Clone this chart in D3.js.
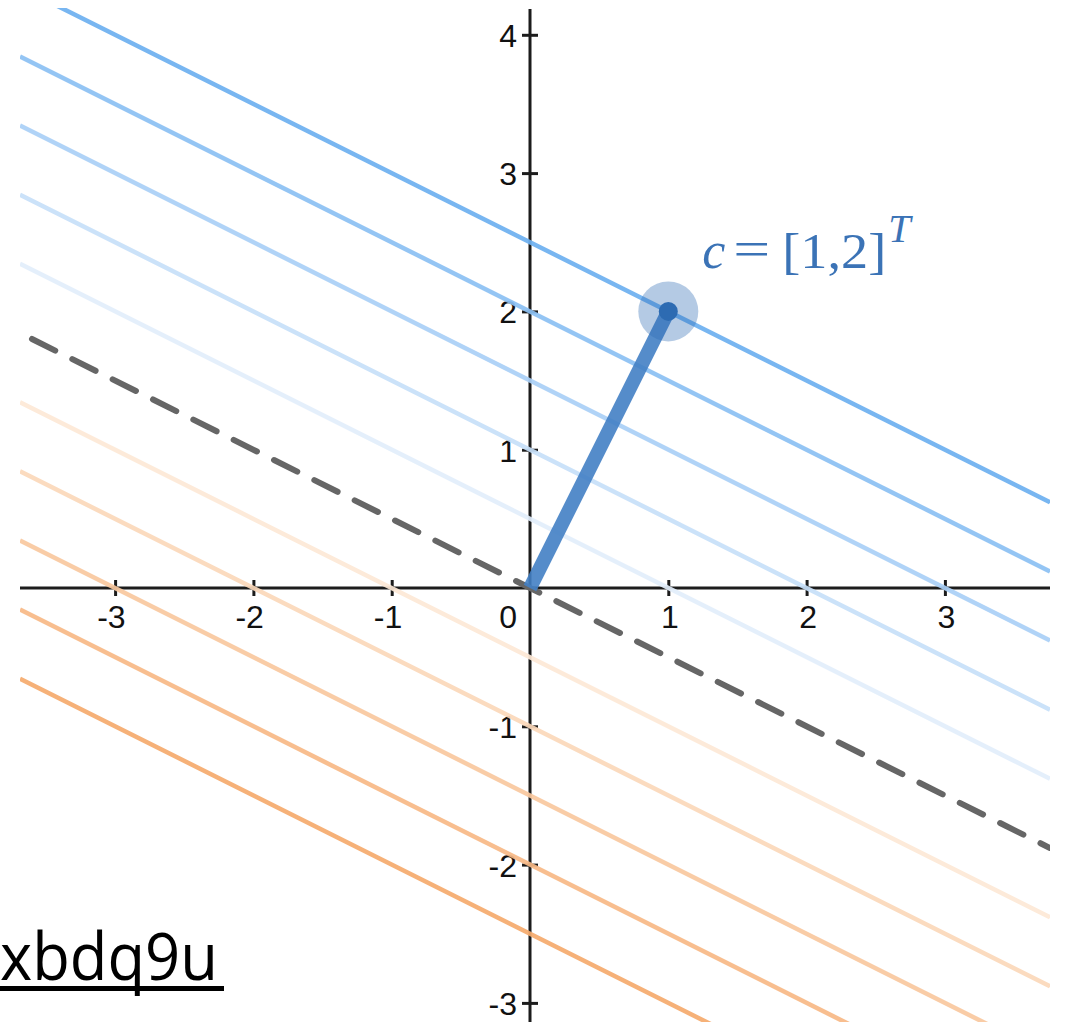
<!DOCTYPE html>
<html>
<head>
<meta charset="utf-8">
<script src="https://cdn.jsdelivr.net/npm/d3@7"></script>
<style>
  html, body { margin: 0; padding: 0; background: #fff; }
  svg { display: block; }
</style>
</head>
<body>
<svg id="chart" width="1066" height="1022"></svg>
<script>
// Level sets of f(x, y) = c·[x, y] with c = [1, 2]
const cVector = [1, 2];
const levelValues = [5, 4, 3, 2, 1, -1, -2, -3, -4, -5];
const levelColors = ["#6cb0f0", "#8bc0f3", "#a9cff6", "#c7dff8", "#e2eefb",
                     "#fde8d6", "#fbd8ba", "#f9c89e", "#f7b986", "#f5aa6c"];
const zeroLevel = 0;
const xTicks = [-3, -2, -1, 1, 2, 3];
const yTicks = [-3, -2, -1, 1, 2, 3, 4];
const originLabel = "0";
const vectorLabel = { name: "c", eq: "=", values: "[1,2]", sup: "T" };
const footerText = "xbdq9u";

(function draw() {
  const svg = d3.select("#chart");

  // plot frame in pixels
  const frameLeft = 20, frameRight = 1050, frameTop = 8, frameBottom = 1022;
  const unit = 138.3, ox = 530, oy = 588;

  const x = d3.scaleLinear()
    .domain([(frameLeft - ox) / unit, (frameRight - ox) / unit])
    .range([frameLeft, frameRight]);
  const y = d3.scaleLinear()
    .domain([(oy - frameBottom) / unit, (oy - frameTop) / unit])
    .range([frameBottom, frameTop]);

  svg.append("defs").append("clipPath").attr("id", "plot-clip")
    .append("rect").attr("x", frameLeft).attr("y", frameTop)
    .attr("width", frameRight - frameLeft).attr("height", frameBottom - frameTop);

  // ---- axes ----
  const axisColor = "#1c1c1c";
  const tickFont = "'Liberation Sans', Arial, sans-serif";
  const tickSize = 32;
  const plainNumber = d => String(d);   // hyphen-minus labels
  const axes = svg.append("g");

  const xAxis = axes.append("g")
    .attr("transform", `translate(0,${y(0)})`)
    .call(d3.axisBottom(x).tickValues(xTicks).tickSize(0).tickFormat(plainNumber));
  xAxis.select(".domain").attr("d", `M${frameLeft},0H${frameRight}`)
    .attr("stroke", axisColor).attr("stroke-width", 3);
  xAxis.selectAll(".tick line").attr("y1", -8).attr("y2", 8)
    .attr("stroke", axisColor).attr("stroke-width", 3);
  xAxis.selectAll(".tick text")
    .style("font-family", tickFont)
    .style("font-size", tickSize + "px").attr("fill", "#111")
    .attr("text-anchor", "end")
    .attr("x", 10).attr("y", 40).attr("dy", 0);

  const yAxis = axes.append("g")
    .attr("transform", `translate(${x(0)},0)`)
    .call(d3.axisLeft(y).tickValues(yTicks).tickSize(0).tickFormat(plainNumber));
  yAxis.select(".domain").attr("d", `M0,${frameTop + 1}V${frameBottom}`)
    .attr("stroke", axisColor).attr("stroke-width", 3);
  yAxis.selectAll(".tick line").attr("x1", -8).attr("x2", 8)
    .attr("stroke", axisColor).attr("stroke-width", 3);
  yAxis.selectAll(".tick text")
    .style("font-family", tickFont)
    .style("font-size", tickSize + "px").attr("fill", "#111")
    .attr("text-anchor", "end")
    .attr("x", -13).attr("dy", "0.36em");

  axes.append("text")
    .attr("x", x(0) - 13).attr("y", y(0) + 40)
    .attr("text-anchor", "end")
    .style("font-family", tickFont)
    .style("font-size", tickSize + "px").attr("fill", "#111")
    .text(originLabel);

  // ---- level lines c·x = k ----
  const plot = svg.append("g").attr("clip-path", "url(#plot-clip)");
  const [x0, x1] = x.domain();
  const levelY = (k, xv) => (k - cVector[0] * xv) / cVector[1];

  plot.selectAll("line.level")
    .data(levelValues)
    .join("line")
    .attr("class", "level")
    .attr("x1", x(x0)).attr("y1", k => y(levelY(k, x0)))
    .attr("x2", x(x1)).attr("y2", k => y(levelY(k, x1)))
    .attr("stroke", (k, i) => levelColors[i])
    .attr("stroke-width", 4.5)
    .attr("stroke-opacity", 0.92);

  // zero level set, dashed
  plot.append("line")
    .attr("x1", x(x0)).attr("y1", y(levelY(zeroLevel, x0)))
    .attr("x2", x(x1)).attr("y2", y(levelY(zeroLevel, x1)))
    .attr("stroke", "#666")
    .attr("stroke-width", 6)
    .attr("stroke-linecap", "round")
    .attr("stroke-dasharray", "26,19.1")
    .attr("stroke-dashoffset", 31.7);

  // ---- vector c ----
  plot.append("line")
    .attr("x1", x(0)).attr("y1", y(0))
    .attr("x2", x(cVector[0])).attr("y2", y(cVector[1]))
    .attr("stroke", "#427fc4")
    .attr("stroke-opacity", 0.9)
    .attr("stroke-width", 14);

  plot.append("circle")
    .attr("cx", x(cVector[0])).attr("cy", y(cVector[1]))
    .attr("r", 30)
    .attr("fill", "#2f6db3").attr("fill-opacity", 0.36);

  plot.append("circle")
    .attr("cx", x(cVector[0])).attr("cy", y(cVector[1]))
    .attr("r", 9.5)
    .attr("fill", "#2d6bb2");

  // ---- label c = [1,2]^T ----
  const px = x(cVector[0]), py = y(cVector[1]);
  const label = svg.append("g")
    .attr("font-family", "'Liberation Serif', 'DejaVu Serif', serif")
    .attr("fill", "#3b73b6");
  label.append("text")
    .attr("x", px + 34).attr("y", py - 43)
    .attr("font-size", 52).attr("font-style", "italic")
    .text(vectorLabel.name);
  label.append("text")
    .attr("x", px + 65).attr("y", py - 45)
    .attr("font-size", 50)
    .attr("textLength", 37).attr("lengthAdjust", "spacingAndGlyphs")
    .text(vectorLabel.eq);
  label.append("text")
    .attr("x", px + 114).attr("y", py - 43)
    .attr("font-size", 50)
    .attr("textLength", 104).attr("lengthAdjust", "spacingAndGlyphs")
    .text(vectorLabel.values);
  label.append("text")
    .attr("x", px + 220).attr("y", py - 69)
    .attr("font-size", 40).attr("font-style", "italic")
    .text(vectorLabel.sup);

  // ---- footer text ----
  svg.append("text")
    .attr("x", 0).attr("y", 980)
    .attr("font-family", "'Open Sans', 'Liberation Sans', sans-serif")
    .attr("font-size", 66)
    .attr("fill", "#000")
    .attr("textLength", 218)
    .attr("lengthAdjust", "spacingAndGlyphs")
    .text(footerText);
  svg.append("rect")
    .attr("x", 0).attr("y", 986)
    .attr("width", 224).attr("height", 5)
    .attr("fill", "#000");
})();
</script>
</body>
</html>
